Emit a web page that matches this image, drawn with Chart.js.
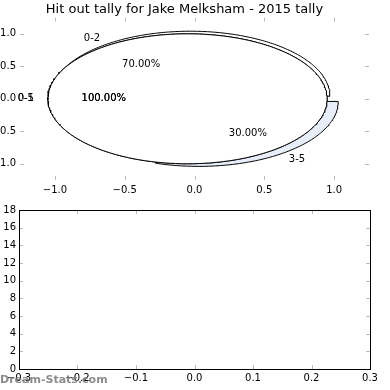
<!DOCTYPE html>
<html>
<head>
<meta charset="utf-8">
<script src="https://cdn.jsdelivr.net/npm/chart.js@4/dist/chart.umd.min.js"></script>
<style>
  html, body { margin: 0; padding: 0; background: #fff; }
  #wrap { position: relative; width: 390px; height: 390px; }
  #wrap canvas { position: absolute; left: 0; top: 0; }
</style>
</head>
<body>
<div id="wrap">
  <canvas id="pie-chart" width="390" height="390"></canvas>
  <canvas id="bins-chart" width="390" height="390"></canvas>
</div>
<script>
// datos del grafico
const titleText = 'Hit out tally for Jake Melksham - 2015 tally';
const sliceLabels = ['0-2', '3-5'];
const sliceValues = [7, 3];
const sliceColors = ['#ffffff', '#e8eef9'];
const overlayLabels = ['0-5', '0-1'];   // tartas de una sola porcion (100%)
const overlayValues = [10, 10];
const pieTicks = [-1.0, -0.5, 0.0, 0.5, 1.0];
const binXTicks = [-0.3, -0.2, -0.1, 0.0, 0.1, 0.2, 0.3];
const binYTicks = [0, 2, 4, 6, 8, 10, 12, 14, 16, 18];
const binCounts = [];   // el segundo grafico esta vacio

const EXPLODE = 0.05;

Chart.defaults.font.family = 'DejaVu Sans';
Chart.defaults.font.size = 10;
Chart.defaults.color = '#000';

function fmtTick(value, digits) {
    const s = Math.abs(value).toFixed(digits);
    return (value < -1e-9 ? '\u2212' : '') + s;
}

// construye las porciones de una tarta (angulos en sentido antihorario desde 0)
function buildPie(values, labels, colors) {
    const total = values.reduce((sum, v) => sum + v, 0);
    let start = 0;
    return values.map((v, i) => {
        const sweep = v / total * 360;
        const mid = (start + sweep / 2) * Math.PI / 180;
        const cx = EXPLODE * Math.cos(mid);
        const cy = EXPLODE * Math.sin(mid);
        const full = sweep > 359.999;
        const pts = [];
        if (!full) pts.push({ x: cx, y: cy });
        const n = Math.max(2, Math.ceil(sweep));
        for (let k = 0; k <= n; k++) {
            const a = (start + sweep * k / n) * Math.PI / 180;
            pts.push({ x: cx + Math.cos(a), y: cy + Math.sin(a) });
        }
        if (!full) pts.push({ x: cx, y: cy });
        start += sweep;
        return { label: labels[i], pct: v / total * 100, color: colors[i], cx, cy, mid, pts };
    });
}

const mainPie = buildPie(sliceValues, sliceLabels, sliceColors);
const overlayPies = overlayValues.map((v, i) => buildPie([v], [overlayLabels[i]], ['#ffffff'])[0]);
const allWedges = mainPie.concat(overlayPies);

const wedgeDatasets = allWedges.map((w, i) => ({
    data: w.pts,
    showLine: true,
    fill: 'shape',
    backgroundColor: w.color,
    borderColor: '#000',
    borderWidth: 1,
    pointRadius: 0,
    tension: 0,
    order: allWedges.length - i   // las ultimas tartas quedan encima
}));

// etiquetas de la tarta
const pieLabels = {
    id: 'pieLabels',
    afterDatasetsDraw(chart) {
        const { ctx, scales: { x, y } } = chart;
        ctx.save();
        ctx.font = '10px "DejaVu Sans"';
        ctx.fillStyle = '#000';
        ctx.textBaseline = 'middle';
        allWedges.forEach(w => {
            const lx = w.cx + 1.1 * Math.cos(w.mid);
            const ly = w.cy + 1.1 * Math.sin(w.mid);
            ctx.textAlign = Math.cos(w.mid) < 0 ? 'right' : 'left';
            ctx.fillText(w.label, x.getPixelForValue(lx), y.getPixelForValue(ly));
            const px = w.cx + 0.6 * Math.cos(w.mid);
            const py = w.cy + 0.6 * Math.sin(w.mid);
            ctx.textAlign = 'center';
            ctx.fillText(w.pct.toFixed(2) + '%', x.getPixelForValue(px), y.getPixelForValue(py));
        });
        ctx.restore();
    }
};

// marcas de los ejes hacia dentro, en los cuatro lados
const innerTicks = {
    id: 'innerTicks',
    afterDraw(chart, args, opts) {
        const { ctx, chartArea: a, scales: { x, y } } = chart;
        ctx.save();
        ctx.lineWidth = 1;
        ctx.strokeStyle = opts.color || '#aaa';
        ctx.beginPath();
        x.ticks.forEach(t => {
            const px = Math.round(x.getPixelForValue(t.value)) + 0.5;
            ctx.moveTo(px, a.top); ctx.lineTo(px, a.top + 4);
            ctx.moveTo(px, a.bottom); ctx.lineTo(px, a.bottom - 4);
        });
        y.ticks.forEach(t => {
            const py = Math.round(y.getPixelForValue(t.value)) + 0.5;
            ctx.moveTo(a.left, py); ctx.lineTo(a.left + 4, py);
            ctx.moveTo(a.right, py); ctx.lineTo(a.right - 4, py);
        });
        ctx.stroke();
        if (opts.frame) {
            ctx.strokeStyle = '#000';
            ctx.strokeRect(Math.round(a.left) + 0.5, Math.round(a.top) + 0.5,
                Math.round(a.right - a.left), Math.round(a.bottom - a.top));
        }
        if (opts.watermark) {
            ctx.font = 'bold 11px "DejaVu Sans"';
            ctx.fillStyle = 'rgba(120,120,120,0.85)';
            ctx.textAlign = 'left';
            ctx.textBaseline = 'middle';
            ctx.fillText(opts.watermark, 0, 380);
        }
        ctx.restore();
    }
};

new Chart(document.getElementById('pie-chart').getContext('2d'), {
    type: 'scatter',
    data: { datasets: wedgeDatasets },
    plugins: [pieLabels, innerTicks],
    options: {
        responsive: false,
        animation: false,
        devicePixelRatio: 1,
        layout: { padding: { top: 0, left: 0, right: 21, bottom: 190 } },
        plugins: {
            legend: { display: false },
            tooltip: { enabled: false },
            title: {
                display: true,
                text: titleText,
                color: '#000',
                font: { size: 13, weight: 'normal' },
                padding: { top: 2, bottom: 0 }
            },
            innerTicks: { color: '#bbb' }
        },
        scales: {
            x: {
                type: 'linear', min: -1.25, max: 1.25,
                afterBuildTicks: axis => { axis.ticks = pieTicks.map(v => ({ value: v })); },
                afterFit: axis => { axis.height = 20; },
                grid: { display: false, drawTicks: false },
                border: { display: false },
                ticks: { padding: 4, autoSkip: false, maxRotation: 0, callback: v => fmtTick(v, 1) }
            },
            y: {
                type: 'linear', min: -1.25, max: 1.25,
                afterBuildTicks: axis => { axis.ticks = pieTicks.map(v => ({ value: v })); },
                afterFit: axis => { axis.width = 20; },
                grid: { display: false, drawTicks: false },
                border: { display: false },
                ticks: { padding: 4, autoSkip: false, callback: v => fmtTick(v, 1) }
            }
        }
    }
});

new Chart(document.getElementById('bins-chart').getContext('2d'), {
    type: 'scatter',
    data: { datasets: [{ data: binCounts, pointRadius: 0 }] },
    plugins: [innerTicks],
    options: {
        responsive: false,
        animation: false,
        devicePixelRatio: 1,
        layout: { padding: { top: 210, left: 0, right: 20, bottom: 5 } },
        plugins: {
            legend: { display: false },
            tooltip: { enabled: false },
            innerTicks: { color: '#bbb', frame: true, watermark: 'Dream-Stats.com' }
        },
        scales: {
            x: {
                type: 'linear', min: -0.3, max: 0.3,
                afterBuildTicks: axis => { axis.ticks = binXTicks.map(v => ({ value: v })); },
                afterFit: axis => { axis.height = 16; },
                grid: { display: false, drawTicks: false },
                border: { display: false },
                ticks: { padding: 3, autoSkip: false, maxRotation: 0, callback: v => fmtTick(v, 1) }
            },
            y: {
                type: 'linear', min: 0, max: 18,
                afterBuildTicks: axis => { axis.ticks = binYTicks.map(v => ({ value: v })); },
                afterFit: axis => { axis.width = 19; },
                grid: { display: false, drawTicks: false },
                border: { display: false },
                ticks: { padding: 3, autoSkip: false, callback: v => String(v) }
            }
        }
    }
});
</script>
</body>
</html>
